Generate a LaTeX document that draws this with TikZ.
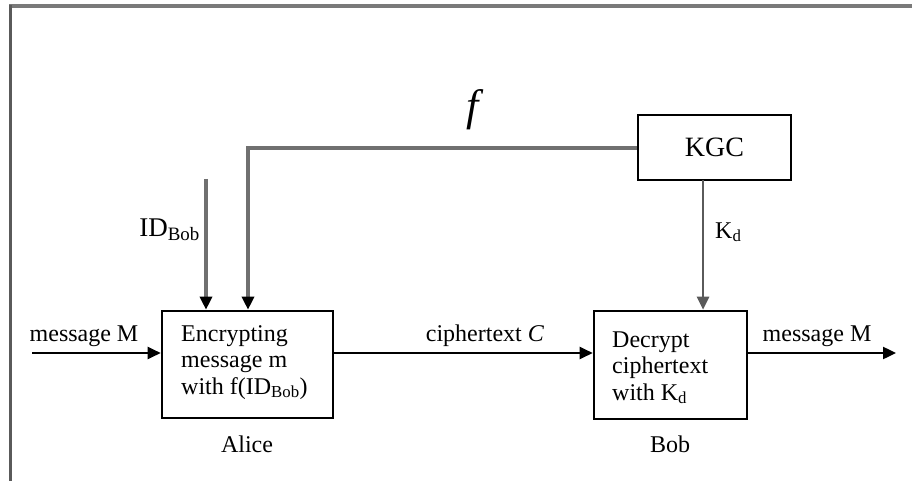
\documentclass[tikz,border=0pt]{standalone}
\usepackage{fontspec}
\setmainfont{Liberation Serif}
\usetikzlibrary{arrows.meta}
\definecolor{framegray}{HTML}{7A7A7A}
\definecolor{leftgray}{HTML}{5A5A5A}
\definecolor{linegray}{HTML}{707070}
\tikzset{
  box/.style={draw=black, line width=2.6pt, rectangle, inner sep=0pt},
  boxtext/.style={font=\fontsize{24}{26.5}\selectfont, align=left},
  lbl/.style={font=\fontsize{24}{26}\selectfont, inner sep=0pt},
  arr/.style={line width=2.4pt, -{Triangle[length=13pt,width=12pt]}},
  grayarr/.style={line width=3.2pt, draw=linegray, -{Triangle[length=13pt,width=12pt,fill=black,color=black]}},
}
\begin{document}
\begin{tikzpicture}[x=1pt,y=-1pt]
\useasboundingbox (0,0) rectangle (912,481);
% frame
\draw[framegray, line width=3.5pt] (9,6) -- (912,6);
\draw[leftgray, line width=3pt] (10.5,5) -- (10.5,481);
% boxes
\node[box, minimum width=171pt, minimum height=107pt] (alice) at (247.5,364.5) {};
\node[box, minimum width=153pt, minimum height=108pt] (bob) at (670.5,365) {};
\node[box, minimum width=153pt, minimum height=65pt, font=\fontsize{28}{30}\selectfont] (kgc) at (714.5,147.5) {KGC};
% box texts (base anchor = last line)
\node[boxtext, anchor=base west, inner sep=0pt] (atext) at (181,394) {Encrypting\\message m\\with f(ID\textsubscript{Bob})};
\node[boxtext, anchor=base west, inner sep=0pt] (btext) at (612,400) {Decrypt\\ciphertext\\with K\textsubscript{d}};
% coordinates
\coordinate (in1) at (32,353);
\coordinate (out1) at (896,353);
\coordinate (fcorner) at (248,148);
\coordinate (idtop) at (206,179);
\coordinate (kdtop) at (703,180);
% connectors
\draw[arr] (in1) -- (alice.west |- in1);
\draw[arr] (alice.east |- in1) -- (bob.west |- in1);
\draw[arr] (bob.east |- in1) -- (out1);
\draw[grayarr] (kgc.west |- fcorner) -- (fcorner) -- (fcorner |- alice.north);
\draw[grayarr] (idtop) -- (idtop |- alice.north);
\draw[arr, draw=leftgray, line width=2.6pt] (kdtop) -- (kdtop |- bob.north);
% labels
\node[lbl, anchor=base] (lm1) at (84,341) {message M};
\node[lbl, anchor=base] (lc) at (485,341) {ciphertext \textit{C}};
\node[lbl, anchor=base] (lm2) at (817,341) {message M};
\node[lbl, anchor=base east, font=\fontsize{27}{28}\selectfont] (lid) at (200,236) {ID\textsubscript{Bob}};
\node[lbl, anchor=base west] (lkd) at (715,238) {K\textsubscript{d}};
\node[lbl, anchor=base] (lalice) at (247,452) {Alice};
\node[lbl, anchor=base] (lbob) at (670,452) {Bob};
\node[inner sep=0pt, anchor=base, font=\fontsize{44}{44}\selectfont] (lf) at (475,121) {\textit{f}};
\end{tikzpicture}
\end{document}
